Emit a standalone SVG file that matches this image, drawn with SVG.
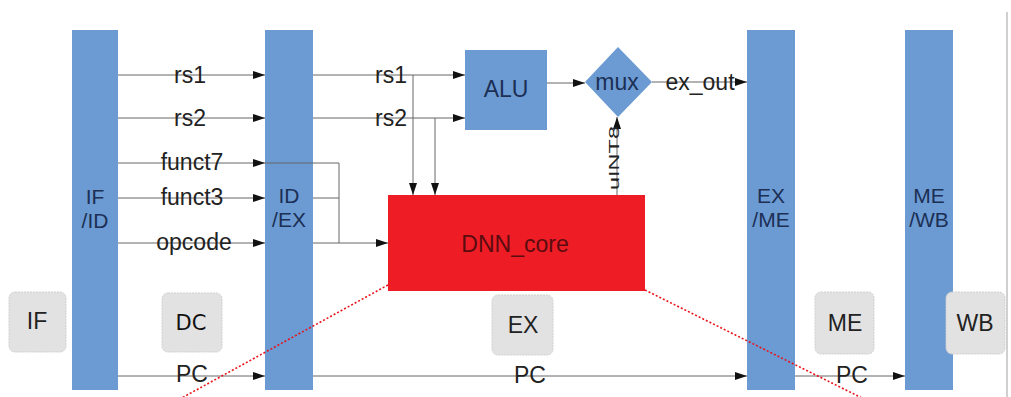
<svg xmlns="http://www.w3.org/2000/svg" width="1011" height="397" viewBox="0 0 1011 397">
<defs>
<marker id="arr" markerWidth="13" markerHeight="10" refX="12" refY="5" orient="auto" markerUnits="userSpaceOnUse">
<path d="M0,1 L12,5 L0,9 Z" fill="#111"/>
</marker>
<style>
.bar{fill:#6b9bd2}
.bt{font-family:"Liberation Sans",Arial,sans-serif;font-size:21px;fill:#1c2f55;text-anchor:middle}
.ln{stroke:#666;stroke-width:1;fill:none}
.lb{font-family:"Liberation Sans",Arial,sans-serif;font-size:23px;fill:#222;text-anchor:middle}
.stg{fill:#e2e2e2;stroke:#cfcfcf;stroke-width:1;stroke-dasharray:2 1}
.st{font-family:"Liberation Sans",Arial,sans-serif;font-size:23px;fill:#222;text-anchor:middle}
.red{stroke:#e8141c;stroke-width:1.6;stroke-dasharray:2 2;fill:none}
</style>
</defs>
<rect width="1011" height="397" fill="#fff"/>
<line x1="1007" y1="12" x2="1007" y2="397" stroke="#d0d0d0" stroke-width="2"/>

<g id="if-id"><rect class="bar" x="72" y="30" width="46" height="360"/><text class="bt" x="95" y="204">IF</text><text class="bt" x="95" y="228">/ID</text></g>
<g id="id-ex"><rect class="bar" x="265" y="30" width="48" height="360"/><text class="bt" x="289" y="203">ID</text><text class="bt" x="289" y="227">/EX</text></g>
<g id="ex-me"><rect class="bar" x="747" y="30" width="48" height="360"/><text class="bt" x="771" y="203">EX</text><text class="bt" x="771" y="227">/ME</text></g>
<g id="me-wb"><rect class="bar" x="905" y="30" width="48" height="360"/><text class="bt" x="929" y="203">ME</text><text class="bt" x="929" y="227">/WB</text></g>

<g id="alu"><rect x="465" y="50" width="82" height="80" fill="#6b9bd2"/><text class="lb" x="506" y="97" fill="#1c2f55" style="fill:#1c2f55">ALU</text></g>
<g id="mux"><polygon points="618,47 652,82 618,117 585,82" fill="#6b9bd2"/><text class="lb" x="617" y="90" style="fill:#1c2f55">mux</text></g>
<g id="dnn-core"><rect x="388" y="195" width="257" height="96" fill="#ee1c25"/><text x="515" y="252" font-family="'Liberation Sans',Arial,sans-serif" font-size="23" fill="#5a0c10" text-anchor="middle">DNN_core</text></g>

<g id="stage-if"><rect class="stg" x="9" y="292" width="57" height="60" rx="6"/><text class="st" x="37" y="329">IF</text></g>
<g id="stage-dc"><rect class="stg" x="162" y="293" width="60" height="59" rx="6"/><text x="191" y="330" font-family="'DejaVu Sans',sans-serif" font-size="21" fill="#111" text-anchor="middle">DC</text></g>
<g id="stage-ex"><rect class="stg" x="492" y="295" width="61" height="60" rx="6"/><text class="st" x="523" y="333">EX</text></g>
<g id="stage-me"><rect class="stg" x="815" y="292" width="59" height="62" rx="6"/><text class="st" x="845" y="331">ME</text></g>
<g id="stage-wb"><rect class="stg" x="946" y="292" width="59" height="62" rx="6"/><text class="st" x="975" y="331">WB</text></g>

<g id="connectors">
<line class="ln" x1="118" y1="75" x2="265" y2="75" marker-end="url(#arr)"/>
<line class="ln" x1="118" y1="118" x2="265" y2="118" marker-end="url(#arr)"/>
<line class="ln" x1="118" y1="163" x2="265" y2="163" marker-end="url(#arr)"/>
<line class="ln" x1="118" y1="198" x2="265" y2="198" marker-end="url(#arr)"/>
<line class="ln" x1="118" y1="243" x2="265" y2="243" marker-end="url(#arr)"/>
<line class="ln" x1="118" y1="376" x2="265" y2="376" marker-end="url(#arr)"/>
<line class="ln" x1="313" y1="75" x2="465" y2="75" marker-end="url(#arr)"/>
<line class="ln" x1="313" y1="118" x2="465" y2="118" marker-end="url(#arr)"/>
<line class="ln" x1="413" y1="75" x2="413" y2="195" marker-end="url(#arr)"/>
<line class="ln" x1="435" y1="118" x2="435" y2="195" marker-end="url(#arr)"/>
<polyline class="ln" points="265,163 339,163 339,243"/>
<line class="ln" x1="313" y1="198" x2="339" y2="198"/>
<line class="ln" x1="313" y1="243" x2="388" y2="243" marker-end="url(#arr)"/>
<line class="ln" x1="547" y1="83" x2="585" y2="83" marker-end="url(#arr)"/>
<line class="ln" x1="652" y1="82" x2="747" y2="82" marker-end="url(#arr)"/>
<line class="ln" x1="617" y1="195" x2="617" y2="117" marker-end="url(#arr)"/>
<line class="ln" x1="313" y1="376" x2="747" y2="376" marker-end="url(#arr)"/>
<line class="ln" x1="795" y1="376" x2="905" y2="376" marker-end="url(#arr)"/>
<line class="red" x1="388" y1="285" x2="178" y2="400"/>
<line class="red" x1="645" y1="290" x2="866" y2="400"/>
<text class="lb" x="190" y="83">rs1</text>
<text class="lb" x="190" y="126">rs2</text>
<text class="lb" x="192" y="170">funct7</text>
<text class="lb" x="192" y="205">funct3</text>
<text class="lb" x="194" y="250">opcode</text>
<text class="lb" x="192" y="382">PC</text>
<text class="lb" x="391" y="83">rs1</text>
<text class="lb" x="391" y="126">rs2</text>
<text class="lb" x="700" y="90">ex_out</text>
<text x="614" y="158" font-family="'Liberation Sans',Arial,sans-serif" font-size="15" fill="#222" text-anchor="middle" transform="rotate(-90 614 158)" dy="5" textLength="64" lengthAdjust="spacingAndGlyphs">uINT8</text>
<text class="lb" x="530" y="383">PC</text>
<text class="lb" x="852" y="383">PC</text>
</g>
</svg>
